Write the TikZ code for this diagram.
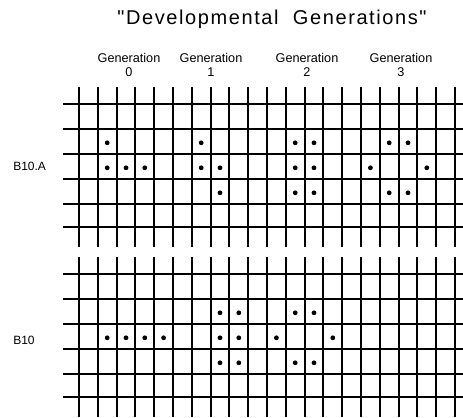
\documentclass[tikz,border=0pt]{standalone}
\usepackage{fontspec}
\setmainfont{Liberation Sans}
\newfontfamily\titlefont{Liberation Sans}[LetterSpace=8]

\begin{document}
\begin{tikzpicture}[x=0.75pt, y=-0.75pt,
  gridline/.style={line width=1.4pt},
  cell/.style={fill=black},
  genlabel/.style={align=center, inner sep=0pt, font=\fontsize{9.5}{11}\selectfont},
  rowlabel/.style={anchor=west, inner sep=0pt, font=\fontsize{9}{11}\selectfont}]

  \useasboundingbox (0,0) rectangle (463,417);

  % --- Title ---
  \node[inner sep=0pt, font=\titlefont\fontsize{15}{18}\selectfont]
    (title) at (272,19) {"Developmental\ \ Generations"};

  % --- Generation labels ---
  \node[genlabel] (gen0) at (129,65) {Generation\\0};
  \node[genlabel] (gen1) at (211,65) {Generation\\1};
  \node[genlabel] (gen2) at (307,65) {Generation\\2};
  \node[genlabel] (gen3) at (401,65) {Generation\\3};

  % --- Row labels ---
  \node[rowlabel] (rowA) at (13,166) {B10.A};
  \node[rowlabel] (rowB) at (13,340) {B10};

  % --- Grids ---
  \foreach \s in {0,170} {
    \foreach \i in {0,...,20}
      \draw[gridline] ({79+18.8*\i}, {87+\s}) -- ({79+18.8*\i}, {247+\s});
    \foreach \y in {104.3,129.3,154.3,179.3,204.3,226.7}
      \draw[gridline] (63, {\y+\s}) -- (463, {\y+\s});
  }

  % --- Live cells, B10.A ---
  \foreach \c/\r in {2/2,2/3,3/3,4/3, 7/2,7/3,8/3,8/4,
                     12/2,13/2,12/3,13/3,12/4,13/4, 17/2,18/2,16/3,19/3,17/4,18/4}
    \fill[cell] ({79+18.8*(\c-0.5)}, {104.3+25*(\r-0.5)+1}) circle[radius=2.4];

  % --- Live cells, B10 ---
  \foreach \c/\r in {2/3,3/3,4/3,5/3, 8/2,9/2,8/3,9/3,8/4,9/4,
                     12/2,13/2,11/3,14/3,12/4,13/4}
    \fill[cell] ({79+18.8*(\c-0.5)}, {274.3+25*(\r-0.5)+1}) circle[radius=2.4];

\end{tikzpicture}
\end{document}
